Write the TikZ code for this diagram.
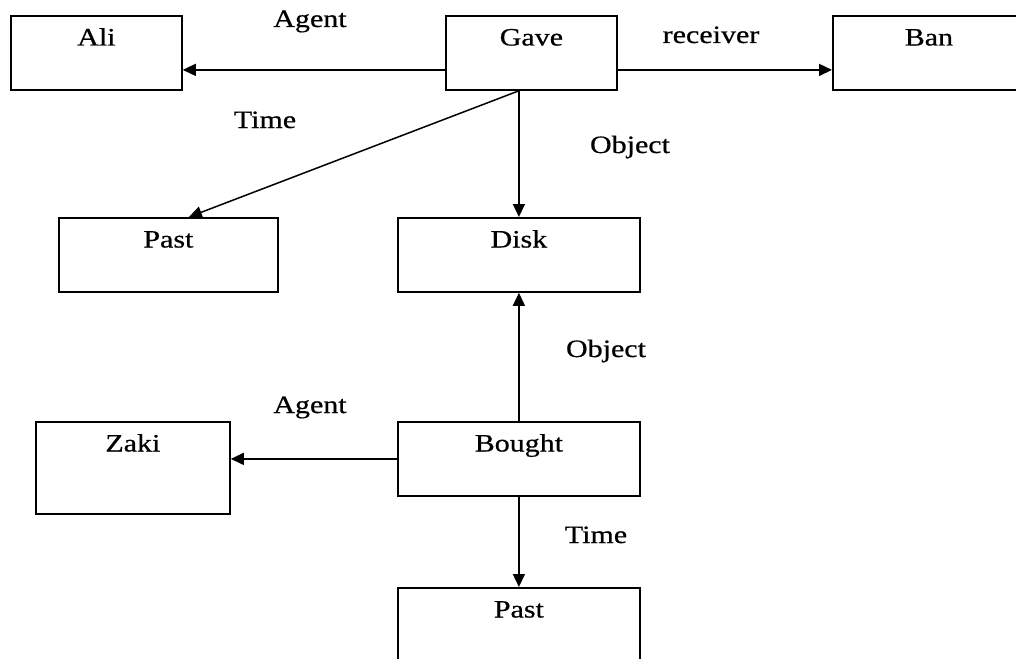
\documentclass[tikz,border=0pt]{standalone}
\usepackage{fontspec}
\setmainfont{Liberation Serif}[FakeStretch=1.2, FakeBold=0.6]
\usetikzlibrary{arrows.meta}

\begin{document}
\begin{tikzpicture}[
    x=0.5pt, y=-0.5pt,
    every node/.style={font=\fontsize{12.5pt}{15pt}\selectfont},
    box/.style={draw, line width=0.9pt, rectangle, anchor=north west, minimum height=37pt, inner ysep=6.5pt, text height=8.3pt, text depth=15.7pt},
    lbl/.style={anchor=base, inner sep=0pt},
    arr/.style={-{Triangle[length=6.5pt, width=6pt]}, line width=0.75pt}
]
    \useasboundingbox (0,0) rectangle (1016,658);
    \clip (0,0) rectangle (1016,658);

    \node[box, minimum width=85.5pt] (ali) at (10,15) {Ali};
    \node[box, minimum width=85.5pt] (gave) at (445,15) {Gave};
    \node[box, minimum width=96pt] (ban) at (832,15) {Ban};
    \node[box, minimum width=109.5pt] (pastA) at (58,217) {Past};
    \node[box, minimum width=121pt] (disk) at (397,217) {Disk};
    \node[box, minimum width=97pt, minimum height=46pt, text depth=24.7pt] (zaki) at (35,421) {Zaki};
    \node[box, minimum width=121pt] (bought) at (397,421) {Bought};
    \node[box, minimum width=121pt] (pastB) at (397,587) {Past};

    \node[lbl] (agentA) at (310,27) {Agent};
    \node[lbl] (recv) at (711,43) {receiver};
    \node[lbl] (timeA) at (265,128) {Time};
    \node[lbl] (objA) at (630,153) {Object};
    \node[lbl] (objB) at (606,357) {Object};
    \node[lbl] (agentB) at (310,413) {Agent};
    \node[lbl] (timeB) at (596,543) {Time};

    \coordinate (gaveFoot) at (disk.north |- gave.south);
    \draw[arr] ([yshift=-8.5pt]gave.west) -- ([yshift=-8.5pt]ali.east);
    \draw[arr] ([yshift=-8.5pt]gave.east) -- ([yshift=-8.5pt]ban.west);
    \draw[arr] (gaveFoot) -- ([xshift=10.25pt]pastA.north);
    \draw[arr] (gaveFoot) -- (disk.north);
    \draw[arr] (bought.north) -- (disk.south);
    \draw[arr] (bought.west) -- (zaki.east |- bought.west);
    \draw[arr] (bought.south) -- (pastB.north);
\end{tikzpicture}
\end{document}
